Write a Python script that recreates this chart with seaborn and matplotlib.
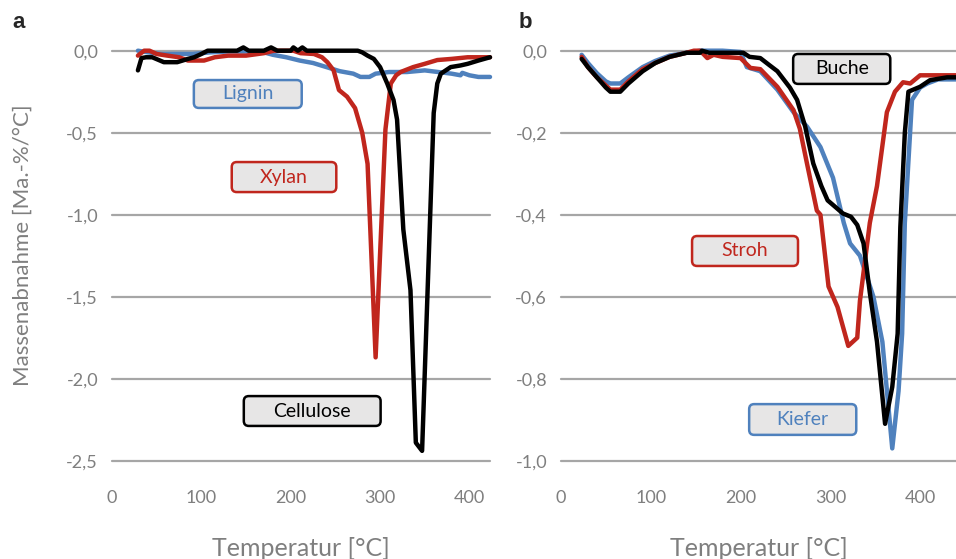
import numpy as np
import pandas as pd
import matplotlib
matplotlib.use("Agg")
import matplotlib.pyplot as plt
from matplotlib.patches import FancyBboxPatch
import seaborn as sns

# ---------------- data ----------------
# Panel a
lignin_T = [29, 40, 55, 70, 90, 110, 130, 150, 170, 180, 195, 210, 225, 240, 255, 270, 278, 288,
            295, 310, 330, 350, 365, 380, 390, 392, 400, 410, 423]
lignin_y = [0.0, -0.01, -0.02, -0.02, -0.02, -0.01, -0.005, -0.005, -0.01, -0.025, -0.04, -0.06,
            -0.075, -0.1, -0.125, -0.14, -0.16, -0.16, -0.14, -0.13, -0.13, -0.12, -0.13, -0.14,
            -0.15, -0.135, -0.15, -0.16, -0.16]

xylan_T = [29, 36, 42, 50, 62, 75, 85, 103, 115, 130, 150, 170, 181, 203, 211, 226, 235, 241, 248,
           254, 263, 272, 280, 286, 295, 306, 312, 318, 323, 337, 350, 364, 380, 398, 423]
xylan_y = [-0.03, 0.0, 0.0, -0.02, -0.03, -0.04, -0.06, -0.06, -0.04, -0.03, -0.03, -0.015, 0.0,
           0.0, -0.015, -0.02, -0.04, -0.07, -0.12, -0.24, -0.28, -0.35, -0.5, -0.69, -1.87, -0.48,
           -0.2, -0.15, -0.13, -0.1, -0.08, -0.057, -0.05, -0.04, -0.04]

cellulose_T = [29, 33, 38, 45, 58, 73, 85, 92, 100, 107, 120, 140, 147, 153, 170, 178, 185, 200,
               203, 208, 213, 218, 240, 275, 280, 286, 293, 300, 308, 315, 319, 326, 334, 340, 347,
               360, 364, 368, 379, 390, 398, 410, 423]
cellulose_y = [-0.12, -0.045, -0.04, -0.04, -0.07, -0.07, -0.05, -0.04, -0.02, 0.0, 0.0, 0.0, 0.02,
               0.0, 0.0, 0.02, 0.0, 0.0, 0.02, 0.0, 0.02, 0.0, 0.0, 0.0, -0.01, -0.03, -0.05, -0.1,
               -0.2, -0.3, -0.42, -1.09, -1.46, -2.39, -2.44, -0.38, -0.2, -0.14, -0.1, -0.09,
               -0.08, -0.06, -0.04]

# Panel b
kiefer_T = [23, 30, 40, 50, 55, 66, 75, 91, 105, 121, 140, 155, 180, 200, 207, 222, 241, 259, 274,
            289, 303, 315, 322, 333, 348, 358, 369, 376, 380, 383, 391, 400, 408, 420, 440]
kiefer_y = [-0.01, -0.03, -0.055, -0.075, -0.08, -0.08, -0.065, -0.04, -0.025, -0.012, -0.005, 0.0,
            0.0, -0.003, -0.04, -0.05, -0.095, -0.15, -0.185, -0.235, -0.31, -0.42, -0.47, -0.5,
            -0.6, -0.71, -0.97, -0.83, -0.69, -0.42, -0.12, -0.09, -0.08, -0.07, -0.07]

stroh_T = [23, 30, 40, 50, 55, 66, 75, 91, 105, 121, 140, 148, 155, 163, 170, 180, 200, 211, 222,
           241, 259, 266, 274, 285, 289, 298, 308, 320, 330, 333, 344, 352, 363, 372, 381, 389, 400,
           440]
stroh_y = [-0.015, -0.04, -0.065, -0.085, -0.095, -0.095, -0.075, -0.045, -0.03, -0.015, -0.005,
           0.0, 0.0, -0.018, -0.01, -0.015, -0.018, -0.042, -0.045, -0.088, -0.145, -0.19, -0.275,
           -0.39, -0.4, -0.575, -0.625, -0.72, -0.7, -0.61, -0.42, -0.33, -0.15, -0.1, -0.077,
           -0.08, -0.06, -0.06]

buche_T = [23, 30, 40, 50, 55, 66, 75, 91, 105, 121, 140, 155, 157, 165, 203, 210, 222, 232, 241,
           255, 263, 272, 281, 290, 297, 305, 314, 323, 330, 337, 344, 352, 361, 369, 375, 378, 383,
           387, 400, 411, 430, 440]
buche_y = [-0.02, -0.04, -0.065, -0.09, -0.1, -0.1, -0.08, -0.05, -0.03, -0.015, -0.005, -0.005,
           0.0, -0.005, -0.005, -0.015, -0.018, -0.035, -0.05, -0.09, -0.12, -0.185, -0.275, -0.33,
           -0.365, -0.38, -0.397, -0.405, -0.425, -0.47, -0.59, -0.71, -0.91, -0.82, -0.69, -0.43,
           -0.2, -0.1, -0.088, -0.072, -0.065, -0.065]

x_ticks = [0, 100, 200, 300, 400]
x_tick_labels = ["0", "100", "200", "300", "400"]
a_y_ticks = [0.0, -0.5, -1.0, -1.5, -2.0, -2.5]
a_y_tick_labels = ["0,0", "-0,5", "-1,0", "-1,5", "-2,0", "-2,5"]
b_y_ticks = [0.0, -0.2, -0.4, -0.6, -0.8, -1.0]
b_y_tick_labels = ["0,0", "-0,2", "-0,4", "-0,6", "-0,8", "-1,0"]

BLUE = "#4f81bd"
RED = "#c0261d"
BLACK = "#000000"
GRAY_TXT = "#7f7f7f"
GRID = "#a6a6a6"


def make_df(series):
    frames = []
    for name, T, y in series:
        frames.append(pd.DataFrame({"T": T, "y": y, "s": name}))
    return pd.concat(frames, ignore_index=True)


df_a = make_df([("Lignin", lignin_T, lignin_y), ("Xylan", xylan_T, xylan_y),
                ("Cellulose", cellulose_T, cellulose_y)])
df_b = make_df([("Kiefer", kiefer_T, kiefer_y), ("Stroh", stroh_T, stroh_y),
                ("Buche", buche_T, buche_y)])

sns.set_theme(style="white")
plt.rcParams["font.family"] = ["Lato", "DejaVu Sans"]

fig = plt.figure(figsize=(9.56, 5.59), dpi=100)
W, H = 956, 559
ax_bottom = 1 - 460.7 / H
ax_h = 410 / H
ax_a = fig.add_axes([112 / W, ax_bottom, (490 - 112) / W, ax_h])
ax_b = fig.add_axes([561 / W, ax_bottom, (956 - 561) / W, ax_h])


def style_axis(ax, xmax, yticks, ylabels):
    ax.set_xlim(0, xmax)
    ax.set_ylim(yticks[-1], 0)
    ax.set_xticks(x_ticks, x_tick_labels)
    ax.set_yticks(yticks, ylabels)
    for sp in ax.spines.values():
        sp.set_visible(False)
    ax.grid(False)
    for yt in yticks:
        ax.axhline(yt, color=GRID, lw=1.6, zorder=1, clip_on=False)
    ax.tick_params(axis="both", length=0, labelsize=13, labelcolor=GRAY_TXT)
    ax.tick_params(axis="y", pad=10)
    ax.tick_params(axis="x", pad=21)
    ax.set_facecolor("none")


def draw(ax, df, palette):
    sns.lineplot(data=df, x="T", y="y", hue="s", palette=palette, ax=ax, legend=False,
                 estimator=None, sort=False, lw=3.2, zorder=3)
    for ln in ax.lines:
        ln.set_clip_on(False)
        ln.set_solid_joinstyle("round")
        ln.set_solid_capstyle("round")


def add_box(ax, x0, x1, y0, y1, text, color):
    (px0, py0), (px1, py1) = ax.transData.transform([(x0, y0), (x1, y1)])
    xs = abs((x1 - x0) / (px1 - px0))
    ys = abs((y1 - y0) / (py1 - py0))
    p = FancyBboxPatch((x0, min(y0, y1)), x1 - x0, abs(y1 - y0),
                       boxstyle=f"round,pad=0,rounding_size={5 * xs}",
                       mutation_aspect=ys / xs, facecolor="#e7e6e6", edgecolor=color,
                       lw=1.8, zorder=5, clip_on=False)
    ax.add_patch(p)
    ax.text((x0 + x1) / 2, (y0 + y1) / 2, text, ha="center", va="center", fontsize=14,
            color=color, zorder=6)


style_axis(ax_a, 423, a_y_ticks, a_y_tick_labels)
style_axis(ax_b, 440, b_y_ticks, b_y_tick_labels)

draw(ax_a, df_a, {"Lignin": BLUE, "Xylan": RED, "Cellulose": BLACK})
draw(ax_b, df_b, {"Kiefer": BLUE, "Stroh": RED, "Buche": BLACK})

ax_a.set_xlim(0, 423)
ax_a.set_ylim(-2.5, 0)
ax_b.set_xlim(0, 440)
ax_b.set_ylim(-1.0, 0)
ax_b.set_ylabel("")
for ax in (ax_a, ax_b):
    ax.set_xlabel("Temperatur [°C]", fontsize=18, color=GRAY_TXT, va="center")
    ax.xaxis.set_label_coords(0.5, (460.7 - 548) / 410)

ax_a.set_ylabel("Massenabnahme [Ma.-%/°C]", fontsize=16, color=GRAY_TXT, va="center")
ax_a.yaxis.set_label_coords((23 - 112) / 378, (460.7 - 245) / 410)

add_box(ax_a, 91.6, 212.3, -0.179, -0.349, "Lignin", BLUE)
add_box(ax_a, 134, 251, -0.679, -0.862, "Xylan", RED)
add_box(ax_a, 147.5, 300.6, -2.106, -2.288, "Cellulose", BLACK)
add_box(ax_b, 258.6, 366.8, -0.008, -0.081, "Buche", BLACK)
add_box(ax_b, 146, 264, -0.452, -0.525, "Stroh", RED)
add_box(ax_b, 209.6, 328.9, -0.862, -0.937, "Kiefer", BLUE)

fig.text(19 / W, 1 - 22 / H, "a", fontsize=16, fontweight="bold", ha="center", va="center",
         family=["Liberation Sans", "DejaVu Sans"])
fig.text(525 / W, 1 - 22 / H, "b", fontsize=16, fontweight="bold", ha="center", va="center",
         family=["Liberation Sans", "DejaVu Sans"])

fig.savefig("out.png", dpi=100, facecolor="white")
